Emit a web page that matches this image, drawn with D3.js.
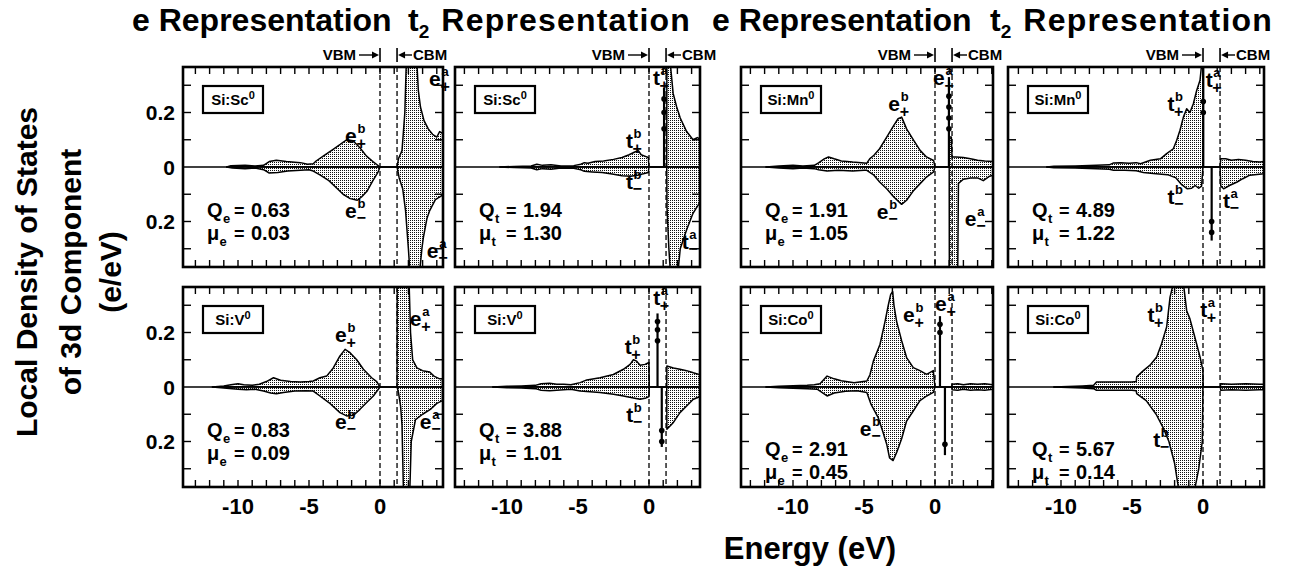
<!DOCTYPE html>
<html>
<head>
<meta charset="utf-8">
<script src="https://cdn.jsdelivr.net/npm/d3@7"></script>
<style>
  body { margin: 0; background: #fff; }
  svg text { font-family: "Liberation Sans", Arial, Helvetica, sans-serif; font-weight: bold; fill: #000; }
</style>
</head>
<body>
<svg id="chart" width="1298" height="571"></svg>
<script>
// ---- data: [energy (eV), |LDOS| (e/eV)] ----
const scE_up = [[-10.8,0],[-10.5,0.005],[-9.5,0.006],[-8.8,0.004],[-8.2,0.006],[-7.8,0.02],[-7.3,0.025],[-6.6,0.02],[-5.6,0.016],[-5.1,0.01],[-4.7,0.012],[-4.5,0.022],[-4.0,0.04],[-3.3,0.065],[-2.8,0.083],[-2.35,0.1],[-1.9,0.096],[-1.4,0.07],[-0.95,0.04],[-0.5,0.02],[0,0],[1.2,0],[1.3,0.03],[1.55,0.06],[1.75,0.2],[1.85,0.38],[2.6,0.38],[2.7,0.28],[2.85,0.22],[3.1,0.17],[3.4,0.14],[3.7,0.12],[4.0,0.11],[4.2,0.13],[4.5,0.12]];
const scE_dn = [[-10.8,0],[-10.4,0.004],[-9.5,0.006],[-8.8,0.004],[-8.2,0.01],[-7.8,0.022],[-7.2,0.02],[-6.5,0.015],[-5.6,0.012],[-5.0,0.01],[-4.7,0.015],[-4.2,0.03],[-3.6,0.05],[-3.0,0.08],[-2.6,0.1],[-2.1,0.116],[-1.6,0.122],[-1.3,0.11],[-0.9,0.088],[-0.5,0.05],[-0.15,0.02],[0,0],[1.2,0],[1.35,0.04],[1.6,0.08],[1.8,0.16],[2.0,0.3],[2.1,0.38],[2.8,0.38],[2.95,0.3],[3.05,0.26],[3.3,0.19],[3.5,0.16],[3.9,0.12],[4.5,0.1]];
const scT_up = [[-10.5,0],[-9.5,0.002],[-8.3,0.004],[-7.9,0.01],[-7.5,0.006],[-6.9,0.008],[-6.2,0.004],[-5.3,0.005],[-4.8,0.01],[-4.55,0.016],[-4.3,0.014],[-3.8,0.02],[-3.2,0.022],[-2.5,0.028],[-1.9,0.035],[-1.4,0.045],[-1.0,0.055],[-0.75,0.06],[-0.55,0.045],[-0.3,0.04],[-0.05,0.035],[0,0],[1.25,0],[1.26,0.38],[1.5,0.38],[1.7,0.27],[1.95,0.22],[2.2,0.18],[2.65,0.13],[3.1,0.1],[3.4,0.108],[3.7,0.1]];
const scT_dn = [[-10.5,0],[-9.5,0.002],[-8.3,0.004],[-7.9,0.01],[-7.5,0.006],[-6.9,0.008],[-6.2,0.004],[-5.3,0.005],[-4.8,0.01],[-4.55,0.016],[-4.0,0.018],[-3.3,0.02],[-2.6,0.026],[-1.9,0.032],[-1.3,0.034],[-0.8,0.03],[-0.4,0.025],[-0.05,0.02],[0,0],[1.25,0],[1.27,0.15],[1.4,0.3],[1.5,0.38],[2.05,0.38],[2.2,0.3],[2.65,0.23],[3.1,0.17],[3.7,0.12]];
const mnE_up = [[-11.9,0],[-11,0.004],[-10,0.006],[-9.3,0.004],[-8.5,0.006],[-8.2,0.015],[-7.8,0.03],[-7.5,0.037],[-7.1,0.03],[-6.6,0.022],[-5.8,0.018],[-5.2,0.016],[-4.8,0.014],[-4.6,0.03],[-4.3,0.043],[-3.9,0.067],[-3.4,0.11],[-2.9,0.153],[-2.6,0.177],[-2.35,0.183],[-2.0,0.14],[-1.5,0.098],[-1.05,0.061],[-0.6,0.037],[-0.1,0.024],[0,0],[1.0,0],[1.01,0.11],[1.15,0.11],[1.2,0.037],[1.5,0.037],[2.0,0.035],[2.5,0.03],[3.0,0.025],[3.5,0.022],[4.1,0.02]];
const mnE_dn = [[-11.9,0],[-11,0.004],[-10,0.006],[-9.3,0.004],[-8.5,0.006],[-8.2,0.01],[-7.6,0.015],[-6.8,0.012],[-5.8,0.015],[-5.0,0.012],[-4.8,0.012],[-4.3,0.03],[-3.9,0.055],[-3.4,0.08],[-2.9,0.11],[-2.35,0.137],[-2.0,0.122],[-1.5,0.086],[-1.05,0.061],[-0.6,0.037],[-0.1,0.018],[0,0],[1.0,0],[1.01,0.38],[1.6,0.38],[1.65,0.06],[2.0,0.045],[2.5,0.04],[3.0,0.04],[3.4,0.05],[3.8,0.035],[4.1,0.03]];
const mnT_up = [[-11,0],[-10.5,0.003],[-9,0.004],[-7.5,0.006],[-6.6,0.008],[-6.3,0.015],[-5.8,0.016],[-5.2,0.014],[-4.7,0.016],[-4.4,0.012],[-3.7,0.025],[-3.0,0.03],[-2.56,0.049],[-2.09,0.067],[-1.85,0.098],[-1.62,0.135],[-1.38,0.183],[-1.15,0.214],[-0.92,0.2],[-0.68,0.232],[-0.45,0.28],[-0.21,0.318],[-0.09,0.38],[0,0.38],[0.01,0],[1.2,0],[1.25,0.03],[1.6,0.03],[2.0,0.025],[2.5,0.028],[3.0,0.025],[3.5,0.02],[4.0,0.018],[4.3,0.02]];
const mnT_dn = [[-11,0],[-10.5,0.003],[-9,0.004],[-7.5,0.006],[-6.6,0.008],[-6.3,0.012],[-5.5,0.012],[-4.7,0.014],[-4.2,0.02],[-3.5,0.024],[-2.5,0.028],[-1.9,0.04],[-1.5,0.065],[-1.1,0.08],[-0.8,0.078],[-0.55,0.068],[-0.3,0.078],[-0.1,0.07],[0,0],[1.2,0],[1.25,0.07],[1.45,0.08],[1.9,0.067],[2.4,0.055],[2.8,0.043],[3.3,0.03],[4.3,0.025]];
const vE_up = [[-11.8,0],[-11,0.004],[-10.5,0.008],[-10,0.012],[-9.6,0.008],[-9.0,0.006],[-8.5,0.01],[-8.0,0.02],[-7.5,0.034],[-7.0,0.025],[-6.3,0.02],[-5.6,0.018],[-5.0,0.02],[-4.7,0.022],[-4.23,0.034],[-3.76,0.04],[-3.29,0.07],[-2.82,0.114],[-2.46,0.138],[-2.11,0.126],[-1.64,0.1],[-1.17,0.065],[-0.59,0.034],[-0.23,0.02],[0,0],[1.2,0],[1.21,0.38],[2.05,0.38],[2.15,0.2],[2.3,0.1],[2.6,0.07],[3.0,0.06],[3.5,0.055],[3.8,0.04],[4.2,0.03],[4.4,0.03]];
const vE_dn = [[-11.8,0],[-11,0.004],[-10,0.008],[-9.4,0.01],[-8.8,0.008],[-8.2,0.015],[-7.7,0.022],[-7.3,0.025],[-6.8,0.02],[-6.0,0.015],[-5.2,0.014],[-4.7,0.015],[-4.23,0.033],[-3.6,0.057],[-2.82,0.094],[-2.35,0.106],[-1.88,0.104],[-1.41,0.082],[-0.94,0.057],[-0.47,0.033],[0,0],[1.2,0],[1.3,0.02],[1.45,0.07],[1.55,0.14],[1.65,0.38],[2.1,0.38],[2.2,0.2],[2.5,0.12],[3.0,0.1],[3.6,0.08],[4.0,0.06],[4.4,0.05]];
const vT_up = [[-11,0],[-10,0.003],[-9,0.004],[-8,0.006],[-7.6,0.012],[-7.0,0.014],[-6.5,0.01],[-6.0,0.01],[-5.5,0.008],[-4.85,0.016],[-4.38,0.026],[-3.45,0.034],[-2.51,0.046],[-1.8,0.065],[-1.33,0.083],[-1.1,0.1],[-0.87,0.095],[-0.63,0.08],[-0.28,0.083],[0,0.09],[0.02,0],[1.25,0],[1.26,0.077],[1.72,0.07],[2.18,0.065],[2.65,0.06],[3.12,0.052],[3.6,0.045]];
const vT_dn = [[-11,0],[-10,0.003],[-9,0.004],[-8,0.006],[-7.6,0.012],[-7.0,0.014],[-6.5,0.012],[-6.0,0.01],[-5.5,0.008],[-4.85,0.015],[-3.45,0.02],[-2.5,0.027],[-1.8,0.033],[-1.1,0.04],[-0.63,0.045],[-0.2,0.04],[0,0.035],[0.02,0],[1.25,0],[1.26,0.155],[1.72,0.13],[2.18,0.094],[2.65,0.07],[3.12,0.045],[3.6,0.035]];
const coE_up = [[-11.9,0],[-11,0.003],[-10,0.005],[-9,0.006],[-8.5,0.008],[-8.1,0.012],[-7.6,0.04],[-7.1,0.03],[-6.6,0.023],[-5.7,0.016],[-4.8,0.022],[-4.58,0.045],[-4.34,0.095],[-3.87,0.157],[-3.52,0.24],[-3.29,0.3],[-3.12,0.34],[-2.98,0.35],[-2.89,0.3],[-2.7,0.24],[-2.35,0.17],[-2.0,0.108],[-1.53,0.071],[-1.06,0.06],[-0.59,0.046],[-0.12,0.06],[0,0],[1.17,0],[1.2,0.01],[1.6,0.012],[2.0,0.008],[2.5,0.012],[3.0,0.01],[3.5,0.012],[4.1,0.008]];
const coE_dn = [[-11.9,0],[-11,0.003],[-10,0.005],[-9,0.006],[-8.3,0.008],[-7.6,0.033],[-7.1,0.022],[-6.3,0.016],[-5.5,0.014],[-4.8,0.02],[-4.5,0.064],[-4.0,0.112],[-3.7,0.16],[-3.4,0.21],[-3.2,0.26],[-2.95,0.27],[-2.7,0.24],[-2.35,0.19],[-2.0,0.125],[-1.53,0.088],[-1.06,0.05],[-0.59,0.033],[-0.12,0.02],[0,0],[1.17,0],[1.2,0.01],[1.6,0.012],[2.0,0.008],[2.5,0.012],[3.0,0.01],[3.5,0.012],[4.1,0.008]];
const coT_up = [[-10.5,0],[-9.5,0.002],[-8.5,0.004],[-7.7,0.006],[-7.5,0.018],[-6.0,0.018],[-5.0,0.018],[-4.7,0.02],[-4.67,0.037],[-4.2,0.06],[-3.73,0.08],[-3.26,0.11],[-2.91,0.16],[-2.56,0.22],[-2.32,0.33],[-2.09,0.38],[-1.38,0.38],[-1.15,0.28],[-0.92,0.25],[-0.56,0.18],[-0.21,0.11],[0,0.06],[0.01,0],[1.22,0],[1.25,0.012],[2,0.01],[3,0.012],[4,0.01],[4.3,0.01]];
const coT_dn = [[-10.5,0],[-9.5,0.002],[-8.5,0.004],[-7.7,0.006],[-7.5,0.012],[-6.0,0.012],[-5.0,0.012],[-4.7,0.014],[-4.67,0.024],[-4.0,0.05],[-3.3,0.1],[-2.8,0.15],[-2.4,0.2],[-2.0,0.28],[-1.7,0.38],[-0.6,0.38],[-0.3,0.3],[-0.05,0.2],[0,0],[1.22,0],[1.25,0.012],[2,0.01],[3,0.012],[4,0.01],[4.3,0.01]];

// resonance spikes: [energy, signed height, dot heights]
const scT_spikes = [[1.06, 0.29, [0.14, 0.2, 0.25]]];
const mnE_spikes = [[0.98, 0.33, [0.14, 0.18, 0.22, 0.26]]];
const mnT_spikes = [[0.02, 0.38, [0.2, 0.24]], [0.61, -0.27, [0.2, 0.24]]];
const vT_spikes = [[0.6, 0.27, [0.17, 0.21, 0.24]], [0.9, -0.22, [0.16, 0.2]]];
const coE_spikes = [[0.35, 0.26, [0.2, 0.23]], [0.7, -0.25, [0.21]]];

// peak labels: [letter, superscript, subscript, energy, value]
const scE_labels = [["e","b","+",-2.46,0.089],["e","b","−",-2.46,-0.187],["e","a","+",3.45,0.296],["e","a","−",3.3,-0.334]];
const scT_labels = [["t","b","+",-1.62,0.07],["t","b","−",-1.62,-0.08],["t","a","+",0.28,0.3],["t","a","−",2.3,-0.3]];
const mnE_labels = [["e","b","+",-3.3,0.206],["e","b","−",-4.1,-0.19],["e","a","+",-0.14,0.3],["e","a","−",2.1,-0.215]];
const mnT_labels = [["t","b","+",-2.5,0.206],["t","b","−",-2.5,-0.136],["t","a","+",0.2,0.295],["t","a","−",1.4,-0.15]];
const vE_labels = [["e","b","+",-3.17,0.165],["e","b","−",-3.17,-0.154],["e","a","+",2.1,0.224],["e","a","−",2.8,-0.154]];
const vT_labels = [["t","b","+",-1.7,0.12],["t","b","−",-1.6,-0.128],["t","a","+",0.3,0.3]];
const coE_labels = [["e","b","+",-2.25,0.24],["e","b","−",-5.3,-0.18],["e","a","+",0,0.28]];
const coT_labels = [["t","b","+",-3.9,0.237],["t","b","−",-3.5,-0.22],["t","a","+",-0.2,0.256]];

const impurities = ["Sc", "Sc", "Mn", "Mn", "V", "V", "Co", "Co"];
const qValues = ["0.63", "1.94", "1.91", "4.89", "0.83", "3.88", "2.91", "5.67"];
const muValues = ["0.03", "1.30", "1.05", "1.22", "0.09", "1.01", "0.45", "0.14"];
const columnTitles = ["e", "t", "e", "t"];
const xTickLabels = [-10, -5, 0];
const yTickLabels = [0.2, 0, -0.2];
const cbmEnergy = 1.2;

// ---- layout ----
const pxPerEv = 14.2;
const colL = [183, 455, 741, 1008], colR = [443, 700, 993, 1264], colZero = [380, 649, 935, 1203];
const rowTop = [67, 287], panelH = 200, yMax = 0.367;
const titleX = [132, 408, 712, 990];

const panels = [
  {col: 0, row: 0, rep: "e", up: scE_up, dn: scE_dn, spikes: [], labels: scE_labels, shift: 0},
  {col: 1, row: 0, rep: "t", up: scT_up, dn: scT_dn, spikes: scT_spikes, labels: scT_labels, shift: 0},
  {col: 2, row: 0, rep: "e", up: mnE_up, dn: mnE_dn, spikes: mnE_spikes, labels: mnE_labels, shift: 0},
  {col: 3, row: 0, rep: "t", up: mnT_up, dn: mnT_dn, spikes: mnT_spikes, labels: mnT_labels, shift: 0},
  {col: 0, row: 1, rep: "e", up: vE_up, dn: vE_dn, spikes: [], labels: vE_labels, shift: 0},
  {col: 1, row: 1, rep: "t", up: vT_up, dn: vT_dn, spikes: vT_spikes, labels: vT_labels, shift: 0},
  {col: 2, row: 1, rep: "e", up: coE_up, dn: coE_dn, spikes: coE_spikes, labels: coE_labels, shift: 19},
  {col: 3, row: 1, rep: "t", up: coT_up, dn: coT_dn, spikes: [], labels: coT_labels, shift: 19}
];

const svg = d3.select("#chart");
const defs = svg.append("defs");
const pat = defs.append("pattern").attr("id", "stip").attr("width", 2).attr("height", 2).attr("patternUnits", "userSpaceOnUse");
pat.append("rect").attr("width", 2).attr("height", 2).attr("fill", "#fff");
pat.append("rect").attr("width", 1).attr("height", 1).attr("fill", "#111");

// column titles
columnTitles.forEach((t, i) => {
  const txt = svg.append("text").attr("x", titleX[i]).attr("y", 31).attr("font-size", 32);
  txt.append("tspan").text(t);
  if (t === "t") {
    txt.append("tspan").attr("font-size", 19).attr("dy", 7).text("2");
    txt.append("tspan").attr("dy", -7).attr("dx", 2).attr("letter-spacing", 1.2).text(" Representation");
  } else {
    txt.append("tspan").text(" Representation");
  }
});

panels.forEach((p, i) => {
  const L = colL[p.col], R = colR[p.col], Z = colZero[p.col];
  const top = rowTop[p.row], bot = top + panelH;
  const x = d3.scaleLinear().domain([(L - Z) / pxPerEv, (R - Z) / pxPerEv]).range([L, R]);
  const y = d3.scaleLinear().domain([-yMax, yMax]).range([bot, top]);
  const g = svg.append("g");

  defs.append("clipPath").attr("id", "clip" + i)
    .append("rect").attr("x", L).attr("y", top).attr("width", R - L).attr("height", panelH);
  const body = g.append("g").attr("clip-path", `url(#clip${i})`);

  const areaUp = d3.area().x(d => x(d[0])).y0(y(0)).y1(d => y(d[1]));
  const areaDn = d3.area().x(d => x(d[0])).y0(y(0)).y1(d => y(-d[1]));
  body.append("path").datum(p.up).attr("d", areaUp)
    .attr("fill", "url(#stip)").attr("stroke", "#000").attr("stroke-width", 1.5).attr("stroke-linejoin", "round");
  body.append("path").datum(p.dn).attr("d", areaDn)
    .attr("fill", "url(#stip)").attr("stroke", "#000").attr("stroke-width", 1.5).attr("stroke-linejoin", "round");

  // zero line
  body.append("line").attr("x1", L).attr("x2", R).attr("y1", y(0)).attr("y2", y(0))
    .attr("stroke", "#000").attr("stroke-width", 1.3);

  // VBM / CBM dashed lines
  [0, cbmEnergy].forEach(e => {
    body.append("line").attr("x1", x(e)).attr("x2", x(e)).attr("y1", top).attr("y2", bot)
      .attr("stroke", "#000").attr("stroke-width", 1.3).attr("stroke-dasharray", "5,3");
  });

  // spikes with dots
  p.spikes.forEach(s => {
    const sg = Math.sign(s[1]);
    body.append("line").attr("x1", x(s[0])).attr("x2", x(s[0])).attr("y1", y(0)).attr("y2", y(s[1]))
      .attr("stroke", "#000").attr("stroke-width", 2.2);
    s[2].forEach(v => {
      body.append("circle").attr("cx", x(s[0])).attr("cy", y(sg * v)).attr("r", 2.8).attr("fill", "#000");
    });
  });

  // frame
  g.append("rect").attr("x", L).attr("y", top).attr("width", R - L).attr("height", panelH)
    .attr("fill", "none").attr("stroke", "#000").attr("stroke-width", 2.6);

  // ticks
  const xt = d3.range(Math.ceil(x.domain()[0]), Math.floor(x.domain()[1]) + 1);
  xt.forEach(t => {
    g.append("line").attr("x1", x(t)).attr("x2", x(t)).attr("y1", top).attr("y2", top + 7).attr("stroke", "#000").attr("stroke-width", 1.4);
    g.append("line").attr("x1", x(t)).attr("x2", x(t)).attr("y1", bot).attr("y2", bot - 7).attr("stroke", "#000").attr("stroke-width", 1.4);
  });
  [-0.3, -0.2, -0.1, 0.1, 0.2, 0.3].forEach(t => {
    g.append("line").attr("x1", L).attr("x2", L + 8).attr("y1", y(t)).attr("y2", y(t)).attr("stroke", "#000").attr("stroke-width", 1.4);
    g.append("line").attr("x1", R).attr("x2", R - 8).attr("y1", y(t)).attr("y2", y(t)).attr("stroke", "#000").attr("stroke-width", 1.4);
  });

  // tick labels
  if (p.row === 1) {
    xTickLabels.forEach(t => {
      g.append("text").attr("x", x(t)).attr("y", 514).attr("text-anchor", "middle").attr("font-size", 22).text(t === 0 ? "0" : "-" + Math.abs(t));
    });
  }
  if (p.col === 0) {
    yTickLabels.forEach(t => {
      g.append("text").attr("x", 175).attr("y", y(t)).attr("dy", "0.36em").attr("text-anchor", "end").attr("font-size", 21).text(t === 0 ? "0" : Math.abs(t).toFixed(1));
    });
  }

  // VBM / CBM markers above the top row
  if (p.row === 0) {
    const hy = 55, xv = x(0), xc = x(cbmEnergy);
    g.append("text").attr("x", xv - 24).attr("y", hy + 5).attr("text-anchor", "end").attr("font-size", 15).text("VBM");
    g.append("line").attr("x1", xv - 21).attr("x2", xv - 4).attr("y1", hy).attr("y2", hy).attr("stroke", "#000").attr("stroke-width", 1.4);
    g.append("path").attr("d", `M${xv - 1},${hy} l-7,-3.5 v7 z`).attr("fill", "#000");
    g.append("line").attr("x1", xv).attr("x2", xv).attr("y1", hy - 7).attr("y2", hy + 7).attr("stroke", "#000").attr("stroke-width", 1.6);
    g.append("line").attr("x1", xc).attr("x2", xc).attr("y1", hy - 7).attr("y2", hy + 7).attr("stroke", "#000").attr("stroke-width", 1.6);
    g.append("line").attr("x1", xc + 4).attr("x2", xc + 15).attr("y1", hy).attr("y2", hy).attr("stroke", "#000").attr("stroke-width", 1.4);
    g.append("path").attr("d", `M${xc + 1},${hy} l7,-3.5 v7 z`).attr("fill", "#000");
    g.append("text").attr("x", xc + 16).attr("y", hy + 5).attr("font-size", 15).text("CBM");
  }

  // impurity box
  const bx = L + 20, by = top + 19;
  g.append("rect").attr("x", bx).attr("y", by).attr("width", 60).attr("height", 27)
    .attr("fill", "#fff").attr("stroke", "#000").attr("stroke-width", 2.2);
  const it = g.append("text").attr("x", bx + 30).attr("y", by + 19).attr("text-anchor", "middle").attr("font-size", 15);
  it.append("tspan").text("Si:" + impurities[i]);
  it.append("tspan").attr("font-size", 11).attr("dy", -6).text("0");

  // charge and moment
  const qx = L + 24, qy = top + 150 + p.shift;
  const sub = p.rep;
  [["Q", qValues[i], qy], ["μ", muValues[i], qy + 23]].forEach(r => {
    g.append("text").attr("x", qx).attr("y", r[2]).attr("font-size", 20).text(r[0]);
    g.append("text").attr("x", qx + (r[0] === "Q" ? 16 : 12.5)).attr("y", r[2] + 6).attr("font-size", 13).text(sub);
    g.append("text").attr("x", qx + 27).attr("y", r[2]).attr("font-size", 18).text("=");
    g.append("text").attr("x", qx + 44).attr("y", r[2]).attr("font-size", 20).text(r[1]);
  });

  // peak labels
  p.labels.forEach(l => {
    const lx = x(l[3]), ly = y(l[4]);
    const off = l[0] === "e" ? 12.5 : 7.5;
    g.append("text").attr("x", lx).attr("y", ly).attr("font-size", 21).text(l[0]);
    g.append("text").attr("x", lx + off).attr("y", ly - 10).attr("font-size", 13).text(l[1]);
    g.append("text").attr("x", lx + off - 1).attr("y", ly + (l[2] === "+" ? 6 : 5)).attr("font-size", 16).text(l[2]);
  });
});

// axis titles
const yTitleLines = ["Local Density of States", "of 3d Component", "(e/eV)"];
const yTitleX = [37, 81, 121];
yTitleLines.forEach((s, i) => {
  svg.append("text").attr("transform", `translate(${yTitleX[i]},272) rotate(-90)`)
    .attr("text-anchor", "middle").attr("font-size", 30).text(s);
});
svg.append("text").attr("x", 810).attr("y", 559).attr("text-anchor", "middle").attr("font-size", 31).text("Energy (eV)");
</script>
</body>
</html>
